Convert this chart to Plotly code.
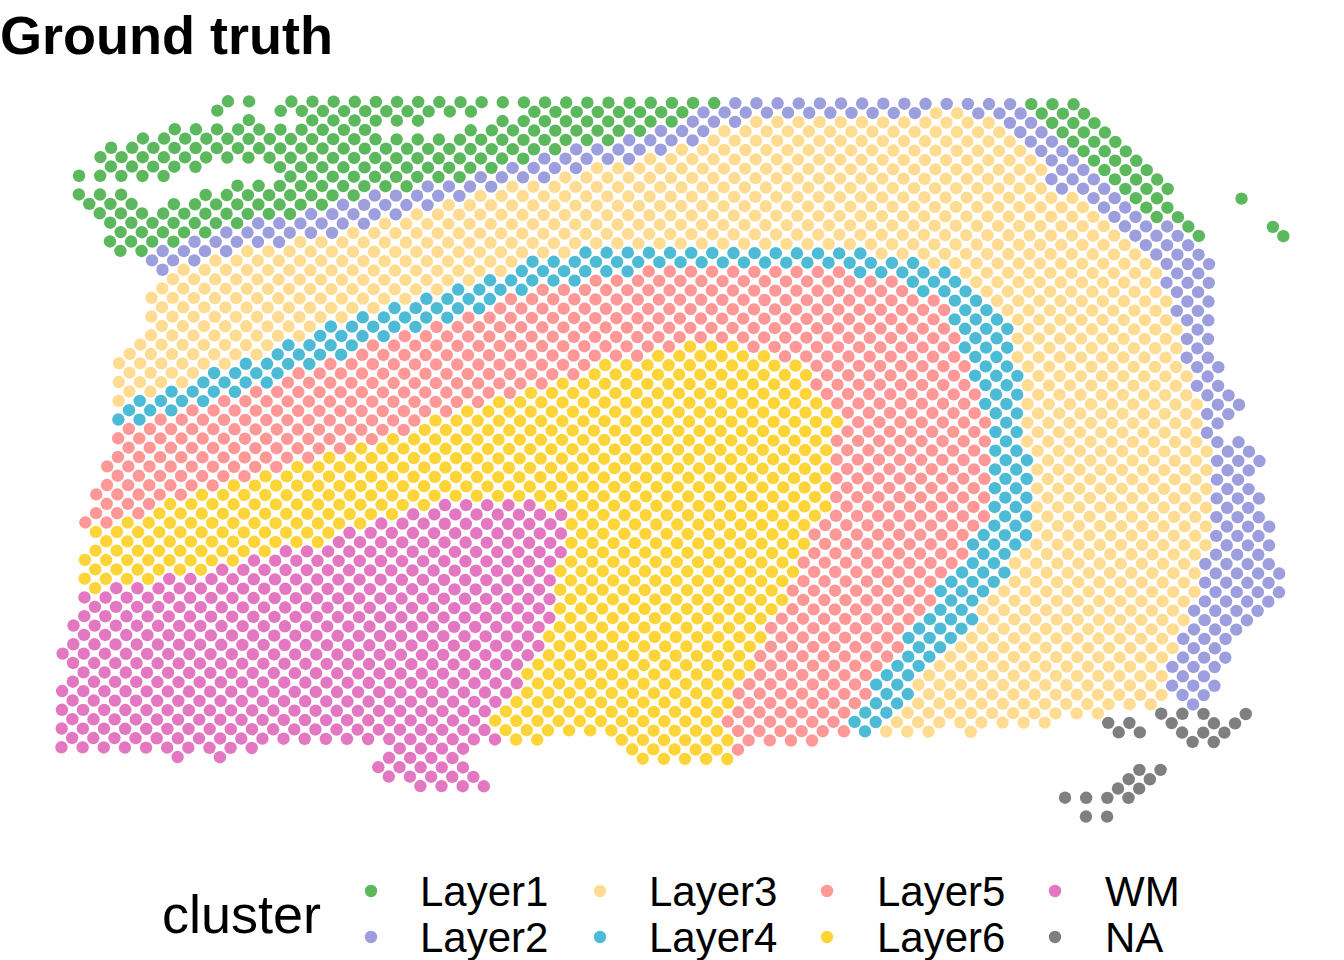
import plotly.graph_objects as go

# Spots are (array_row, first_array_col, last_array_col); columns step by 2 on the hexagonal grid.
LAYER1 = [(0,15,15),(0,17,17),(0,21,61),(0,91,95),(1,14,14),(1,20,38),(1,44,58),(1,92,96),(2,17,17),(2,23,33),(2,41,57),(2,93,97),
 (3,10,28),(3,38,54),(3,94,98),(4,7,51),(4,95,99),(5,4,46),(5,96,100),(6,3,43),(6,97,101),(7,4,12),(7,20,40),(7,98,102),
 (8,1,9),(8,21,37),(8,99,103),(9,16,32),(9,100,104),(10,1,5),(10,13,27),(10,101,103),(10,111,111),(11,2,6),(11,10,24),(11,102,104),
 (12,3,21),(12,103,105),(13,4,16),(13,106,106),(13,114,114),(14,5,13),(14,107,107),(14,115,115),(15,4,10),(16,5,7)]
LAYER2 = [(0,63,89),(1,60,80),(1,86,90),(2,59,63),(2,89,91),(3,56,60),(3,90,92),(4,53,59),(4,91,93),(5,48,56),(5,92,94),(6,45,53),(6,93,95),
 (7,42,48),(7,94,96),(8,39,45),(8,93,97),(9,34,40),(9,94,98),(10,29,37),(10,97,99),(11,26,34),(11,98,100),(12,23,31),(12,99,101),
 (13,18,28),(13,100,104),(14,15,25),(14,101,105),(15,12,20),(15,102,106),(16,9,15),(16,103,107),(17,8,12),(17,104,108),(18,9,9),(18,105,107),
 (19,104,108),(20,105,107),(21,106,108),(22,105,107),(23,106,108),(24,107,107),(25,106,108),(26,107,107),(27,106,108),(28,107,109),(29,108,108),
 (30,107,109),(31,108,110),(32,109,111),(33,108,110),(34,109,109),(35,108,108),(36,109,111),(37,110,112),(38,109,113),(39,110,112),(40,109,111),
 (41,110,112),(42,109,113),(43,110,112),(44,109,113),(45,110,114),(46,109,113),(47,110,114),(48,109,113),(49,108,114),(50,109,115),(51,108,114),
 (52,109,115),(53,108,114),(54,107,113),(55,108,112),(56,107,111),(57,106,110),(58,107,109),(59,106,110),(60,105,109),(61,106,108),(62,105,109),
 (63,106,108),(64,107,107)]
LAYER3 = [(1,82,84),(2,65,87),(3,62,88),(4,61,89),(5,58,90),(6,55,91),(7,50,92),(8,47,91),(9,42,92),(10,39,95),(11,36,96),(12,33,97),(13,30,98),
 (14,27,99),(15,22,100),(16,17,47),(16,77,101),(17,14,42),(17,82,102),(18,11,41),(18,85,103),(19,10,38),(19,86,102),(20,9,35),(20,87,103),
 (21,8,32),(21,88,104),(22,9,29),(22,89,103),(23,8,26),(23,90,104),(24,9,23),(24,91,105),(25,8,22),(25,90,104),(26,7,19),(26,91,105),
 (27,6,18),(27,90,104),(28,5,15),(28,91,105),(29,6,12),(29,92,106),(30,5,11),(30,91,105),(31,6,8),(31,92,106),(32,5,5),(32,91,107),
 (33,92,106),(34,91,107),(35,92,106),(36,91,107),(37,92,108),(38,93,107),(39,92,108),(40,93,107),(41,92,108),(42,93,107),(43,92,108),(44,93,107),
 (45,92,108),(46,93,107),(47,92,108),(48,91,107),(49,90,106),(50,91,107),(51,90,106),(52,89,107),(53,88,106),(54,87,105),(55,88,106),(56,87,105),
 (57,86,104),(58,85,105),(59,84,104),(60,83,103),(61,82,104),(62,81,103),(63,82,104),(64,81,103),(65,80,98),(66,79,93),(67,78,82),(67,86,86)]
LAYER4 = [(16,49,75),(17,44,80),(18,43,53),(18,75,83),(19,40,48),(19,80,84),(20,37,43),(20,81,85),(21,34,40),(21,84,86),(22,31,39),(22,85,87),
 (23,28,36),(23,84,88),(24,25,33),(24,85,89),(25,24,30),(25,86,88),(26,21,27),(26,85,89),(27,20,26),(27,86,88),(28,17,23),(28,87,89),
 (29,14,20),(29,86,90),(30,13,19),(30,87,89),(31,10,16),(31,88,90),(32,7,13),(32,87,89),(33,6,10),(33,88,90),(34,5,7),(34,89,89),
 (35,88,90),(36,89,89),(37,88,90),(38,89,91),(39,88,90),(40,89,91),(41,88,90),(42,89,91),(43,88,90),(44,89,91),(45,88,90),(46,87,91),
 (47,86,90),(48,87,89),(49,86,88),(50,85,89),(51,84,88),(52,83,87),(53,84,86),(54,83,85),(55,82,86),(56,81,85),(57,80,84),(58,81,83),
 (59,80,82),(60,79,81),(61,78,80),(62,77,79),(63,78,80),(64,77,79),(65,76,78),(66,75,77),(67,76,76)]
LAYER5 = [(18,55,73),(19,50,78),(20,45,79),(21,42,82),(22,41,83),(23,38,82),(24,35,83),(25,32,84),(26,29,57),(26,65,83),(27,28,54),(27,68,84),
 (28,25,49),(28,71,85),(29,22,48),(29,72,84),(30,21,45),(30,71,85),(31,18,42),(31,72,86),(32,15,39),(32,73,85),(33,12,36),(33,74,86),
 (34,9,33),(34,75,87),(35,6,32),(35,74,86),(36,5,29),(36,73,87),(37,6,26),(37,74,86),(38,5,23),(38,73,87),(39,4,20),(39,74,86),(40,5,17),(40,73,87),
 (41,4,14),(41,74,86),(42,3,11),(42,73,87),(43,4,8),(43,74,86),(44,3,7),(44,73,87),(45,2,4),(45,72,86),(46,71,85),(47,72,84),(48,71,85),(49,70,84),
 (50,71,83),(51,70,82),(52,69,81),(53,70,82),(54,69,81),(55,68,80),(56,67,79),(57,68,78),(58,67,79),(59,66,78),(60,67,77),(61,66,76),(62,65,75),
 (63,64,76),(64,65,75),(65,64,74),(66,63,73),(67,64,74),(68,65,71),(69,64,64)]
LAYER6 = [(26,59,63),(27,56,66),(28,51,69),(29,50,70),(30,47,69),(31,44,70),(32,41,71),(33,38,72),(34,35,73),(35,34,72),(36,31,71),(37,28,72),
 (38,25,71),(39,22,72),(40,19,71),(41,16,72),(42,13,71),(43,10,34),(43,46,72),(44,9,31),(44,49,71),(45,6,28),(45,48,70),(46,3,25),(46,49,69),
 (47,4,24),(47,48,70),(48,3,19),(48,49,69),(49,2,16),(49,48,68),(50,3,13),(50,47,69),(51,2,8),(51,48,68),(52,3,3),(52,47,67),(53,48,68),(54,47,67),
 (55,48,66),(56,47,65),(57,46,66),(58,47,65),(59,46,64),(60,45,65),(61,44,64),(62,45,63),(63,44,62),(64,43,63),(65,42,62),(66,41,61),(67,42,62),
 (68,43,45),(68,53,63),(69,54,62),(70,55,63)]
WM = [(43,36,44),(44,33,47),(45,30,46),(46,27,47),(47,26,46),(48,21,47),(49,18,46),(50,15,45),(51,10,46),(52,5,45),(53,2,46),(54,3,45),(55,2,46),
 (56,1,45),(57,2,44),(58,1,45),(59,0,44),(60,1,43),(61,2,42),(62,1,43),(63,0,42),(64,1,41),(65,0,40),(66,1,39),(67,0,40),(68,1,41),(69,0,18),
 (69,32,38),(70,11,11),(70,15,15),(70,31,37),(71,30,38),(72,31,39),(73,34,40)]
NOT_ANNOTATED = [(65,104,108),(65,112,112),(66,99,101),(66,105,105),(66,109,111),(67,100,102),(67,106,110),(68,107,109),(71,102,104),(72,101,103),
 (73,100,102),(74,95,101),(76,97,99)]

CLUSTERS = ["Layer1", "Layer2", "Layer3", "Layer4", "Layer5", "Layer6", "WM", "NA"]
SPOTS = [LAYER1, LAYER2, LAYER3, LAYER4, LAYER5, LAYER6, WM, NOT_ANNOTATED]
COLORS = ["#5CB85C", "#9C9EDE", "#FFDC91", "#4DBBD5", "#FF9896", "#FED439", "#E377C2", "#7F7F7F"]
FONT = "Liberation Sans"

# Grid-to-image calibration (the capture area is slightly rotated, as on a real slide)
def spot_x(row, col):
    return 69.4 + 10.57 * col - 0.115 * row

def spot_y(row, col):
    return 100.75 + 9.37 * row + 0.0375 * col

fig = go.Figure()
for name, runs, color in zip(CLUSTERS, SPOTS, COLORS):
    xs, ys = [], []
    for row, first, last in runs:
        for col in range(first, last + 1, 2):
            xs.append(spot_x(row, col))
            ys.append(spot_y(row, col))
    fig.add_trace(go.Scatter(x=xs, y=ys, mode="markers", name=name, showlegend=False,
                             marker=dict(size=12.4, color=color, line=dict(width=0))))

# Legend keys and labels, laid out like the two-row guide of the reference
KEY_X = [371, 371, 600, 600, 827, 827, 1055, 1055]
LABEL_X = [418, 418, 647, 647, 875, 875, 1103, 1103]
KEY_Y = [891, 937, 891, 937, 891, 937, 891, 937]
for name, color, kx, lx, ky in zip(CLUSTERS, COLORS, KEY_X, LABEL_X, KEY_Y):
    fig.add_trace(go.Scatter(x=[kx], y=[ky], mode="markers", showlegend=False, name=name,
                             marker=dict(size=12.4, color=color, line=dict(width=0))))
    fig.add_annotation(x=lx, y=ky, text=name, showarrow=False, xanchor="left", yanchor="middle",
                       font=dict(family=FONT, size=42, color="#000000"), xref="x", yref="y")
fig.add_annotation(x=160, y=914, text="cluster", showarrow=False, xanchor="left", yanchor="middle",
                   font=dict(family=FONT, size=54, color="#000000"), xref="x", yref="y")
fig.add_annotation(x=0, xshift=-2, y=35, text="<b>Ground truth</b>", showarrow=False, xanchor="left", yanchor="middle",
                   font=dict(family=FONT, size=54, color="#000000"), xref="paper", yref="y")

hidden = dict(visible=False, showgrid=False, zeroline=False, fixedrange=True)
fig.update_layout(width=1344, height=960, margin=dict(l=0, r=0, t=0, b=0),
                  paper_bgcolor="#FFFFFF", plot_bgcolor="#FFFFFF", showlegend=False,
                  xaxis=dict(range=[0, 1344], **hidden),
                  yaxis=dict(range=[960, 0], **hidden))
fig.write_html("out.html", config={"displayModeBar": False},
               post_script="document.body.style.margin='0';document.documentElement.style.overflow='hidden';")
